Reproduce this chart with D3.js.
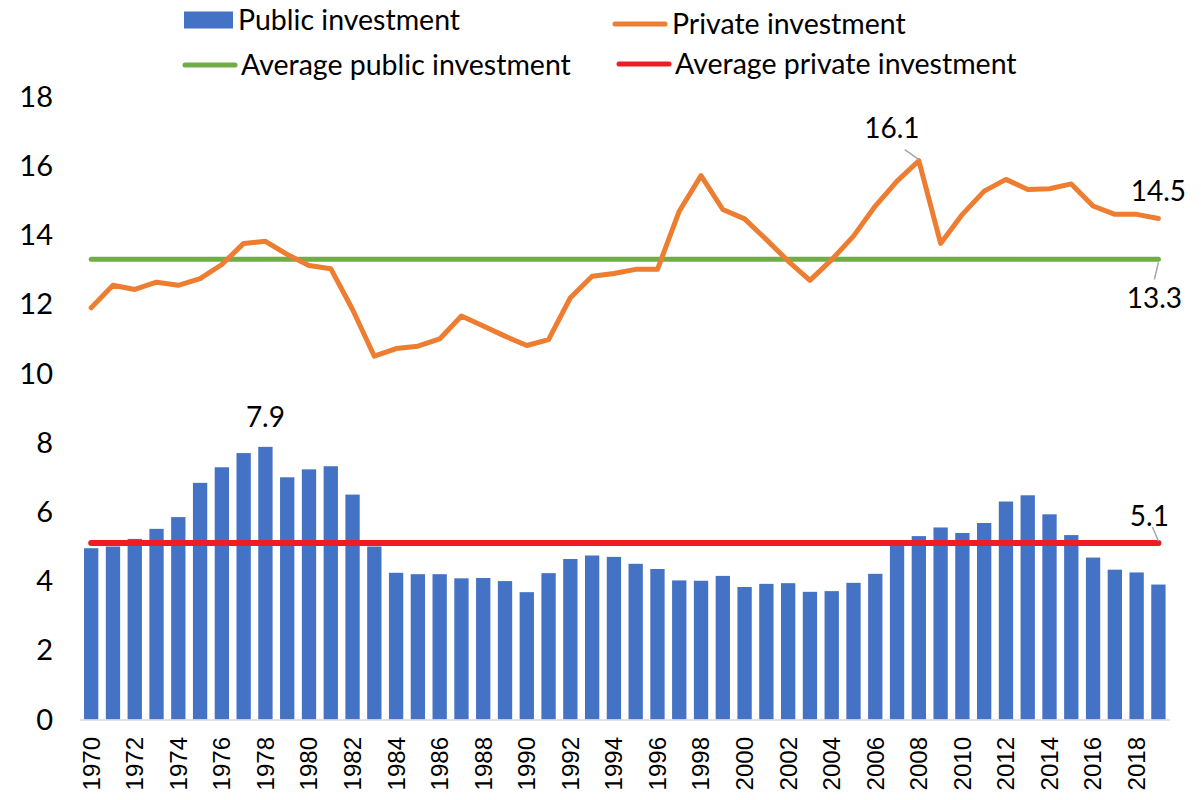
<!DOCTYPE html>
<head>
	<meta charset="utf-8" />
	<style>
		body {
			margin: 0;
			background: #fff;
		}
		svg text {
			fill: #000;
		}
		.ytick {
			font: 29px Lato, sans-serif;
		}
		.xtick {
			font: 24px 'Liberation Sans', Arial, sans-serif;
		}
		.legend {
			font: 28.5px Lato, sans-serif;
		}
		.dlabel {
			font: 28px Lato, sans-serif;
		}
	</style>
</head>

<body>
	<div id="chart-area"></div>

	<script src="https://cdnjs.cloudflare.com/ajax/libs/d3/7.8.5/d3.min.js"></script>
	<script>
		// values
		var years = d3.range(1970, 2020);

		var publicInv = [
			4.95, 5.0, 5.22, 5.51, 5.85, 6.84, 7.29, 7.7, 7.88, 7.0,
			7.23, 7.32, 6.5, 5.0, 4.24, 4.2, 4.2, 4.08, 4.09, 4.0,
			3.68, 4.23, 4.64, 4.74, 4.7, 4.5, 4.35, 4.02, 4.01, 4.15,
			3.83, 3.92, 3.94, 3.69, 3.71, 3.95, 4.21, 5.05, 5.3, 5.55,
			5.39, 5.68, 6.3, 6.48, 5.93, 5.33, 4.68, 4.33, 4.25, 3.9,
		];

		var privateInv = [
			11.9, 12.55, 12.43, 12.64, 12.55, 12.74, 13.15, 13.76, 13.82, 13.44,
			13.12, 13.03, 11.85, 10.5, 10.72, 10.79, 11.0, 11.66, 11.37, 11.08,
			10.81, 10.98, 12.19, 12.81, 12.89, 13.01, 13.01, 14.69, 15.72, 14.74,
			14.47, 13.87, 13.25, 12.69, 13.29, 13.97, 14.84, 15.56, 16.15, 13.76,
			14.6, 15.27, 15.61, 15.32, 15.34, 15.48, 14.84, 14.6, 14.6, 14.48,
		];

		var avgGreen = 13.3; // "Average public investment" line in legend
		var avgRed = 5.1; // "Average private investment" line in legend

		var yTicks = [0, 2, 4, 6, 8, 10, 12, 14, 16, 18];
		var xTicks = years.filter(y => y % 2 === 0);

		var legendItems = ['Public investment', 'Private investment', 'Average public investment', 'Average private investment'];

		var colors = {
			bar: '#4472c4',
			priv: '#ed7d31',
			green: '#70ad47',
			red: '#ee1c25',
			leader: '#a6a6a6',
		};

		var width = 1201,
			height = 800;

		var svg = d3
			.select('#chart-area')
			.append('svg')
			.attr('width', width)
			.attr('height', height);

		var x = d3
			.scaleBand()
			.domain(years)
			.range([80.3, 1169.3])
			.paddingInner(0.343)
			.paddingOuter(0.1715);

		var y = d3.scaleLinear().domain([0, 18]).range([719.5, 96.7]);

		var cx = yr => x(yr) + x.bandwidth() / 2;

		// y tick labels (no gridlines in the original)
		svg.append('g')
			.selectAll('text')
			.data(yTicks)
			.join('text')
			.attr('class', 'ytick')
			.attr('x', 53)
			.attr('y', d => y(d))
			.attr('dy', '0.35em')
			.attr('text-anchor', 'end')
			.text(d => d);

		// bars
		svg.append('g')
			.selectAll('rect')
			.data(years)
			.join('rect')
			.attr('x', d => x(d))
			.attr('width', x.bandwidth())
			.attr('y', (d, i) => y(publicInv[i]))
			.attr('height', (d, i) => y(0) - y(publicInv[i]))
			.attr('fill', colors.bar);

		// x axis line
		svg.append('line')
			.attr('x1', 80)
			.attr('x2', 1170)
			.attr('y1', y(0) + 0.5)
			.attr('y2', y(0) + 0.5)
			.attr('stroke', '#d9d9d9')
			.attr('stroke-width', 1.5);

		// x tick labels, rotated
		svg.append('g')
			.selectAll('text')
			.data(xTicks)
			.join('text')
			.attr('class', 'xtick')
			.attr('transform', d => `translate(${cx(d)},737) rotate(-90)`)
			.attr('dy', '0.35em')
			.attr('text-anchor', 'end')
			.text(d => d);

		// average lines
		var first = years[0],
			last = years[years.length - 1];

		[
			[avgGreen, colors.green],
			[avgRed, colors.red],
		].forEach(([v, c]) => {
			svg.append('line')
				.attr('x1', cx(first))
				.attr('x2', cx(last))
				.attr('y1', y(v))
				.attr('y2', y(v))
				.attr('stroke', c)
				.attr('stroke-width', c === colors.red ? 6 : 5)
				.attr('stroke-linecap', 'round');
		});

		// private investment line
		var line = d3
			.line()
			.x((d, i) => cx(years[i]))
			.y(d => y(d));

		svg.append('path')
			.datum(privateInv)
			.attr('d', line)
			.attr('fill', 'none')
			.attr('stroke', colors.priv)
			.attr('stroke-width', 5)
			.attr('stroke-linejoin', 'round')
			.attr('stroke-linecap', 'round');

		// data labels
		var labels = [
			{ px: cx(1978), py: y(publicInv[8]), text: '7.9', tx: 0, ty: -30 },
			{ px: cx(2008), py: y(16.15), text: '16.1', tx: -27, ty: -33, lead: [-14, -11, 0, -1] },
			{ px: cx(2019), py: y(14.48), text: '14.5', tx: 0, ty: -27 },
			{ px: cx(2019), py: y(avgGreen), text: '13.3', tx: -4, ty: 39, lead: [0, 3, -4, 20] },
			{ px: cx(2019), py: y(avgRed), text: '5.1', tx: -9, ty: -27, lead: [-6, -16, 0, -2] },
		];

		labels.forEach(l => {
			if (l.lead) {
				svg.append('line')
					.attr('x1', l.px + l.lead[0])
					.attr('y1', l.py + l.lead[1])
					.attr('x2', l.px + l.lead[2])
					.attr('y2', l.py + l.lead[3])
					.attr('stroke', colors.leader)
					.attr('stroke-width', 1.5);
			}
			svg.append('text')
				.attr('class', 'dlabel')
				.attr('x', l.px + l.tx)
				.attr('y', l.py + l.ty)
				.attr('dy', '0.35em')
				.attr('text-anchor', 'middle')
				.text(l.text);
		});

		// legend
		var leg = svg.append('g').attr('class', 'legend');
		var legPos = [
			{ x: 184, y: 20, type: 'rect', color: colors.bar, tx: 238 },
			{ x: 615, y: 24, type: 'line', color: colors.priv, tx: 672 },
			{ x: 185, y: 65, type: 'line', color: colors.green, tx: 241 },
			{ x: 619, y: 64, type: 'line', color: colors.red, tx: 675 },
		];

		legendItems.forEach((name, i) => {
			var p = legPos[i];
			if (p.type === 'rect') {
				leg.append('rect')
					.attr('x', p.x)
					.attr('y', p.y - 8.5)
					.attr('width', 49)
					.attr('height', 17)
					.attr('fill', p.color);
			} else {
				leg.append('line')
					.attr('x1', p.x)
					.attr('x2', p.x + 50)
					.attr('y1', p.y)
					.attr('y2', p.y)
					.attr('stroke', p.color)
					.attr('stroke-width', 5)
					.attr('stroke-linecap', 'round');
			}
			leg.append('text')
				.attr('x', p.tx)
				.attr('y', p.y)
				.attr('dy', '0.35em')
				.text(name);
		});
	</script>
</body>
